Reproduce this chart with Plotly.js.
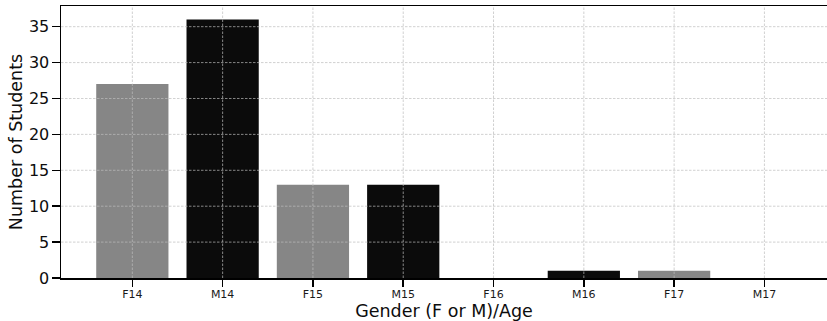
<!DOCTYPE html>
<html>
<head>
<meta charset="utf-8">
<script src="https://cdn.plot.ly/plotly-3.0.1.min.js"></script>
<style>html,body{margin:0;padding:0;overflow:hidden;background:#fff;}</style>
</head>
<body>
<div id="chart" style="width:827px;height:321px;"></div>
<script>
const categories = ["F14", "M14", "F15", "M15", "F16", "M16", "F17", "M17"];
const counts = [27, 36, 13, 13, 0, 1, 1, 0];
const barColors = ["#868686", "#0b0b0b", "#868686", "#0b0b0b", "#868686", "#0b0b0b", "#868686", "#0b0b0b"];
const yTicks = [0, 5, 10, 15, 20, 25, 30, 35];

const gridStyle = {color: "#bdbdbd", width: 0.7, dash: "2.5px,1.5px"};
const shapes = [];
categories.forEach(c => shapes.push({type: "line", layer: "above", xref: "x", yref: "paper", x0: c, x1: c, y0: 0, y1: 1, line: gridStyle}));
yTicks.filter(v => v > 0).forEach(v => shapes.push({type: "line", layer: "above", xref: "paper", yref: "y", x0: 0, x1: 1, y0: v, y1: v, line: gridStyle}));

const trace = {
  type: "bar",
  x: categories,
  y: counts,
  width: 0.8,
  marker: {color: barColors, line: {width: 0}},
  hoverinfo: "skip"
};

const layout = {
  width: 827,
  height: 321,
  margin: {l: 61, r: 0, t: 6, b: 43},
  paper_bgcolor: "#fff",
  plot_bgcolor: "#fff",
  showlegend: false,
  font: {family: "DejaVu Sans", color: "#111"},
  shapes: shapes,
  xaxis: {
    type: "category",
    range: [-0.79, 7.693],
    showgrid: false,
    zeroline: false,
    showline: true,
    linecolor: "#000",
    linewidth: 1.5,
    mirror: true,
    ticks: "outside",
    ticklen: 7,
    tickwidth: 1.5,
    tickcolor: "#000",
    ticklabelstandoff: -2,
    tickfont: {size: 11, family: "DejaVu Sans", color: "#1a1a1a"},
    title: {text: "Gender (F or M)/Age", font: {size: 17.5, family: "DejaVu Sans", color: "#0d0d0d"}, standoff: 0},
    automargin: false
  },
  yaxis: {
    range: [0, 37.88],
    tickvals: yTicks,
    showgrid: false,
    zeroline: false,
    showline: true,
    linecolor: "#000",
    linewidth: 1.5,
    mirror: false,
    ticks: "outside",
    ticklen: 8,
    tickwidth: 1.5,
    tickcolor: "#000",
    ticklabelstandoff: -1,
    tickfont: {size: 16, family: "DejaVu Sans", color: "#0d0d0d"},
    title: {text: "Number of Students", font: {size: 17.5, family: "DejaVu Sans", color: "#0d0d0d"}, standoff: 2},
    automargin: false
  }
};

Plotly.newPlot("chart", [trace], layout, {displayModeBar: false, staticPlot: true});
</script>
</body>
</html>
